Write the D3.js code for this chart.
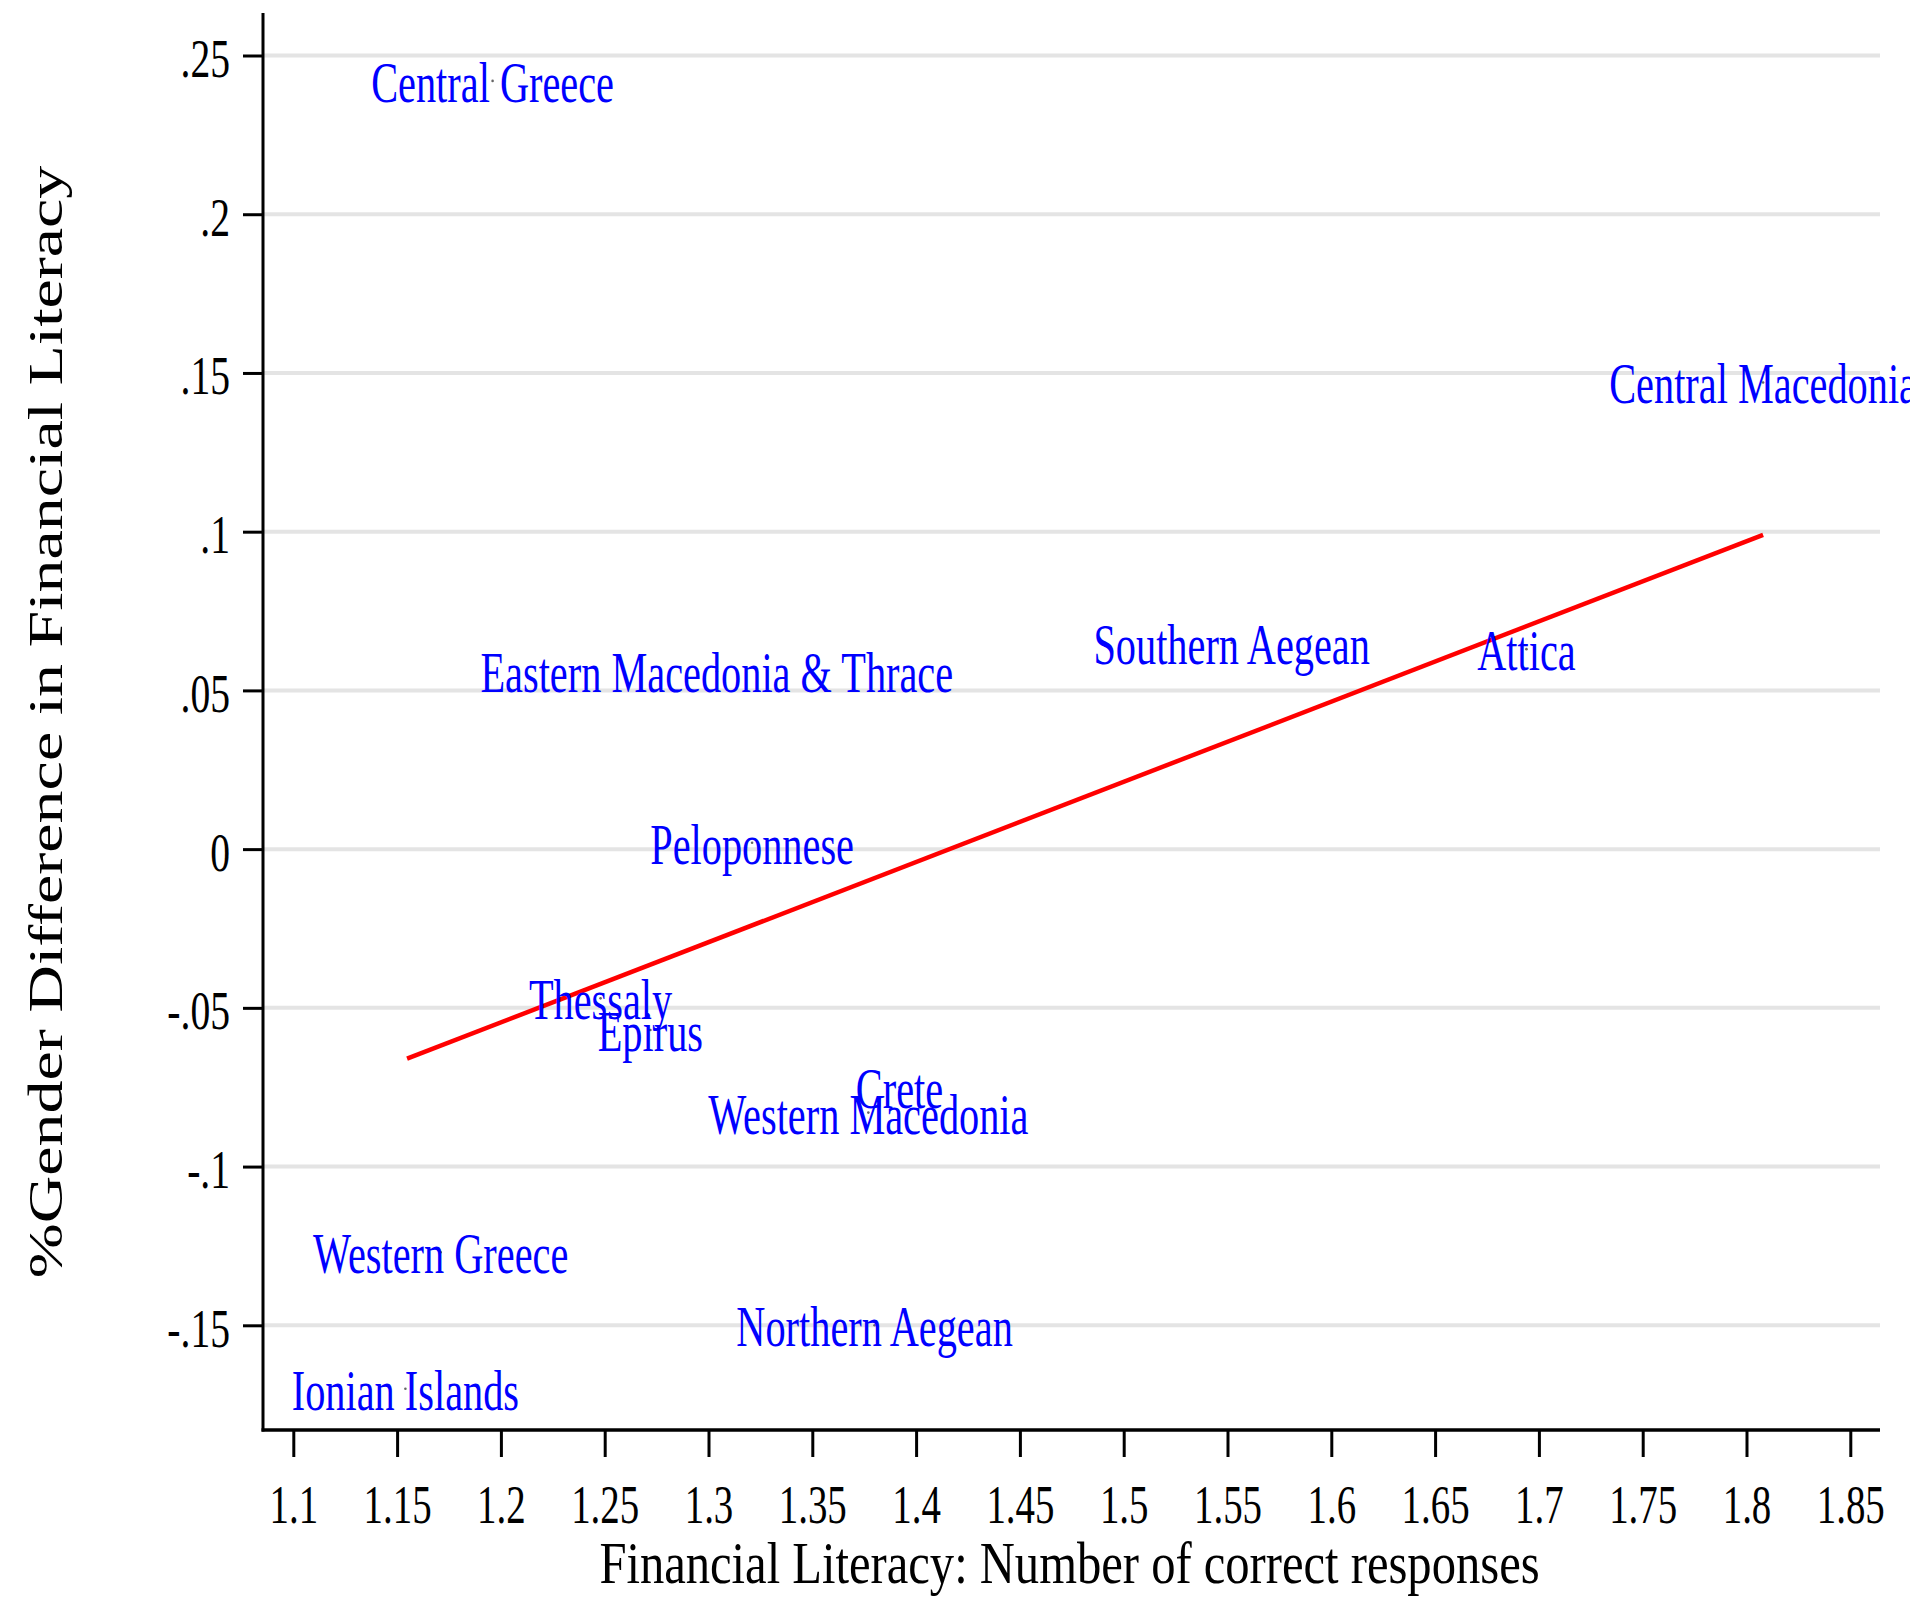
<!DOCTYPE html>
<html>
<head>
<meta charset="utf-8">
<script src="https://cdn.jsdelivr.net/npm/d3@7"></script>
<style>
  html, body { margin: 0; padding: 0; background: #ffffff; }
  svg { display: block; }
  text { font-family: "Liberation Serif", "Times New Roman", Times, serif; }
</style>
</head>
<body>
<svg id="chart" width="1918" height="1602"></svg>
<script>
// Regions of Greece: average financial literacy score vs. gender gap
const regions = [
  "Central Greece", "Central Macedonia", "Eastern Macedonia & Thrace",
  "Southern Aegean", "Attica", "Peloponnese", "Thessaly", "Epirus",
  "Crete", "Western Macedonia", "Western Greece", "Northern Aegean",
  "Ionian Islands"
];
const literacy = [
  1.196, 1.808, 1.304, 1.552, 1.694, 1.321, 1.248, 1.272,
  1.392, 1.377, 1.171, 1.380, 1.154
];
const genderGap = [
  0.242, 0.147, 0.056, 0.065, 0.063, 0.002, -0.047, -0.057,
  -0.075, -0.083, -0.127, -0.150, -0.170
];

// Fitted regression line end points
const fitX = [1.1548, 1.808];
const fitY = [-0.066, 0.099];

const xTicks = [1.1, 1.15, 1.2, 1.25, 1.3, 1.35, 1.4, 1.45, 1.5, 1.55, 1.6, 1.65, 1.7, 1.75, 1.8, 1.85];
const yTicks = [-0.15, -0.1, -0.05, 0, 0.05, 0.1, 0.15, 0.2, 0.25];
const yTickLabels = ["-.15", "-.1", "-.05", "0", ".05", ".1", ".15", ".2", ".25"];

const xTitle = "Financial Literacy: Number of correct responses";
const yTitle = "%Gender Difference in Financial Literacy";

// Layout
const plot = { left: 263, right: 1880, top: 13, bottom: 1430 };
const squeeze = 0.72;   // horizontally condensed lettering

const svg = d3.select("#chart");

const x = d3.scaleLinear().domain([1.1, 1.85]).range([293.3, 1850.3]);
const y = d3.scaleLinear().domain([-0.15, 0.25]).range([1325.3, 55.5]);

// Horizontal grid lines
svg.append("g")
  .selectAll("line")
  .data(yTicks)
  .join("line")
  .attr("x1", plot.left)
  .attr("x2", plot.right)
  .attr("y1", d => y(d))
  .attr("y2", d => y(d))
  .attr("stroke", "#e4e4e4")
  .attr("stroke-width", 4);

// Y axis
const yAxis = svg.append("g")
  .attr("transform", `translate(${plot.left},0)`)
  .call(d3.axisLeft(y)
    .tickValues(yTicks)
    .tickSize(20)
    .tickFormat((d, i) => yTickLabels[i]));
yAxis.select(".domain").remove();
yAxis.selectAll(".tick line").attr("stroke", "#000").attr("stroke-width", 3);
yAxis.selectAll(".tick text")
  .attr("fill", "#000")
  .attr("font-size", 55)
  .attr("text-anchor", "end")
  .attr("dy", null)
  .attr("y", 21)
  .attr("x", -33 / squeeze)
  .attr("transform", `scale(${squeeze},1)`);

// X axis
const xAxis = svg.append("g")
  .attr("transform", `translate(0,${plot.bottom})`)
  .call(d3.axisBottom(x)
    .tickValues(xTicks)
    .tickSize(27)
    .tickFormat(d => d3.format("")(+d.toFixed(2))));
xAxis.select(".domain").remove();
xAxis.selectAll(".tick line").attr("stroke", "#000").attr("stroke-width", 3);
xAxis.selectAll(".tick text")
  .attr("fill", "#000")
  .attr("font-size", 54)
  .attr("dy", null)
  .attr("y", 93)
  .attr("transform", `scale(${squeeze},1)`);

// Axis lines
svg.append("line")
  .attr("x1", plot.left).attr("x2", plot.left)
  .attr("y1", plot.top).attr("y2", plot.bottom + 1.5)
  .attr("stroke", "#000").attr("stroke-width", 3);
svg.append("line")
  .attr("x1", plot.left - 1.5).attr("x2", plot.right)
  .attr("y1", plot.bottom).attr("y2", plot.bottom)
  .attr("stroke", "#000").attr("stroke-width", 3.5);

// Fitted line
const fitPts = fitX.map((d, i) => [d, fitY[i]]);
svg.append("path")
  .datum(fitPts)
  .attr("d", d3.line().x(d => x(d[0])).y(d => y(d[1])))
  .attr("fill", "none")
  .attr("stroke", "#ff0000")
  .attr("stroke-width", 4.5);

// Points with their region names centred on them
const pts = regions.map((r, i) => ({ name: r, lx: literacy[i], gy: genderGap[i] }));

svg.append("clipPath").attr("id", "frame")
  .append("rect").attr("x", 0).attr("y", 0).attr("width", 1910).attr("height", 1602);

const marks = svg.append("g").attr("clip-path", "url(#frame)");

marks.selectAll("circle")
  .data(pts)
  .join("circle")
  .attr("cx", d => x(d.lx))
  .attr("cy", d => y(d.gy))
  .attr("r", 1.3)
  .attr("fill", "#666");

marks.selectAll("text.region")
  .data(pts)
  .join("text")
  .attr("class", "region")
  .attr("transform", d => `translate(${x(d.lx)},${y(d.gy) + 21}) scale(${squeeze},1)`)
  .attr("text-anchor", "middle")
  .attr("font-size", 56)
  .attr("fill", "#0000ff")
  .text(d => d.name);

// Axis titles
svg.append("text")
  .attr("transform", "translate(1069.5,1583) scale(0.81,1)")
  .attr("text-anchor", "middle")
  .attr("font-size", 60)
  .attr("fill", "#000")
  .text(xTitle);

svg.append("text")
  .attr("transform", "translate(62,722) scale(0.73,1) rotate(-90)")
  .attr("text-anchor", "middle")
  .attr("font-size", 66)
  .attr("fill", "#000")
  .text(yTitle);
</script>
</body>
</html>
